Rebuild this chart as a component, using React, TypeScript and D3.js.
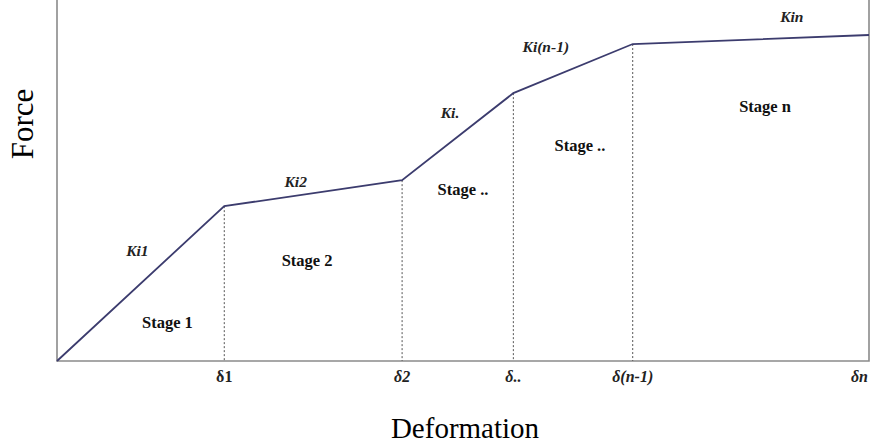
import React from "react";
import * as d3 from "d3";

// deformation at each knee (arbitrary units) and the force reached there
const deformations = [0, 2.06, 4.25, 5.62, 7.09, 10];
const forces = [0, 4.29, 5.01, 7.42, 8.78, 9.03];
const tickLabels = ["δ1", "δ2", "δ..", "δ(n-1)", "δn"];
const tickStyles = ["normal", "italic", "italic", "italic", "italic"];

const stageNames = ["Stage 1", "Stage 2", "Stage ..", "Stage ..", "Stage n"];
const stageX = [1.36, 3.08, 5.0, 6.44, 8.72];
const stageY = [0.91, 2.64, 4.6, 5.82, 6.9];

const stiffnessNames = ["Ki1", "Ki2", "Ki.", "Ki(n-1)", "Kin"];
const stiffnessX = [0.99, 2.94, 4.84, 6.02, 9.05];
const stiffnessY = [2.9, 4.83, 6.73, 8.55, 9.4];

const W = 877;
const H = 443;
const left = 57;
const right = 869;
const top = 0;
const bottom = 361;

export default function App() {
  const x = d3.scaleLinear().domain([0, 10]).range([left, right]);
  const y = d3.scaleLinear().domain([0, 10]).range([bottom, top]);

  const line = d3
    .line<number>()
    .x((d) => x(d))
    .y((_, i) => y(forces[i]));

  const serif = "'Liberation Serif', 'Times New Roman', serif";

  return (
    <svg
      width={W}
      height={H}
      style={{ position: "absolute", left: 0, top: 0, background: "#fff" }}
      fontFamily={serif}
    >
      {/* frame: left, bottom and right sides */}
      <path
        d={`M${left},${top}V${bottom}H${right}V${top}`}
        fill="none"
        stroke="#8a8a8a"
        strokeWidth={1.6}
      />

      {/* dotted drop lines from each knee */}
      {deformations.slice(1, -1).map((d, i) => (
        <line
          key={"drop" + i}
          x1={x(d)}
          x2={x(d)}
          y1={y(forces[i + 1])}
          y2={bottom}
          stroke="#555"
          strokeWidth={1}
          strokeDasharray="2,2"
        />
      ))}

      {/* force-deformation curve */}
      <path d={line(deformations) || ""} fill="none" stroke="#3c3c6e" strokeWidth={1.8} />

      {/* tick labels */}
      {deformations.slice(1).map((d, i) => (
        <text
          key={"t" + i}
          x={i === tickLabels.length - 1 ? x(d) - 1 : x(d)}
          y={382}
          textAnchor={i === tickLabels.length - 1 ? "end" : "middle"}
          fontSize={16}
          fontWeight="bold"
          fontStyle={tickStyles[i]}
          fill="#222"
        >
          {tickLabels[i]}
        </text>
      ))}

      {/* stage labels */}
      {stageNames.map((s, i) => (
        <text
          key={"s" + i}
          x={x(stageX[i])}
          y={y(stageY[i])}
          textAnchor="middle"
          fontSize={16.5}
          fontWeight="bold"
          fill="#111"
        >
          {s}
        </text>
      ))}

      {/* stiffness labels */}
      {stiffnessNames.map((s, i) => (
        <text
          key={"k" + i}
          x={x(stiffnessX[i])}
          y={y(stiffnessY[i])}
          textAnchor="middle"
          fontSize={15.5}
          fontWeight="bold"
          fontStyle="italic"
          fill="#222"
        >
          {s}
        </text>
      ))}

      {/* axis titles */}
      <text
        transform={`translate(33,124) rotate(-90)`}
        textAnchor="middle"
        fontSize={31}
        fill="#000"
      >
        Force
      </text>
      <text x={465} y={438} textAnchor="middle" fontSize={29} fill="#000">
        Deformation
      </text>
    </svg>
  );
}
